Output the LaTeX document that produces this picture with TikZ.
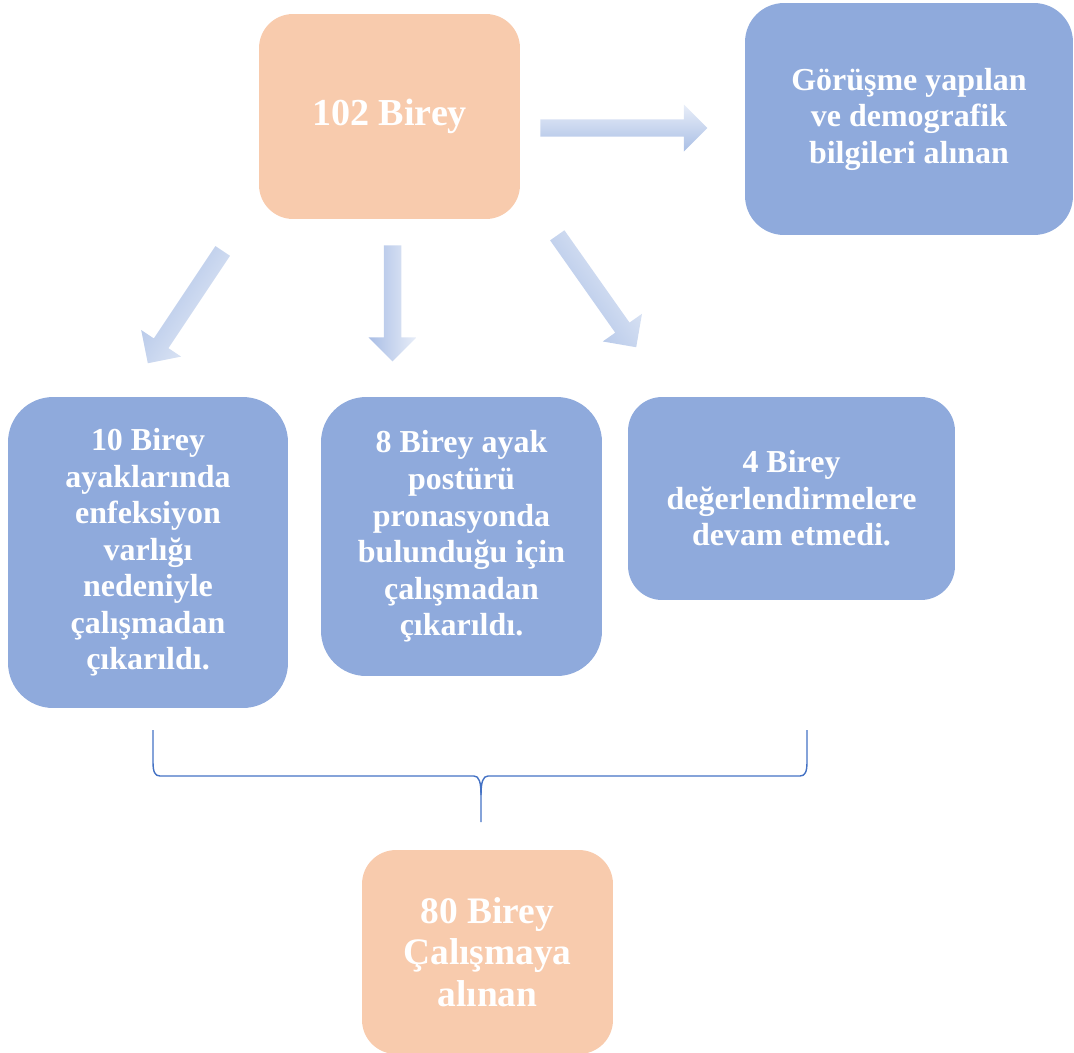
\documentclass[tikz,border=0pt]{standalone}
\usepackage{fontspec}
\setmainfont{Liberation Serif}
\usetikzlibrary{shapes.arrows}

\definecolor{boxblue}{HTML}{8FAADC}
\definecolor{boxpeach}{HTML}{F8CBAD}
\definecolor{bracecol}{HTML}{4472C4}
\definecolor{arrowlight}{HTML}{E8EEF8}
\definecolor{arrowdark}{HTML}{A9BEE5}

\tikzset{
  bluebox/.style={fill=boxblue, draw=none, text=white, align=center, inner sep=0pt,
    font=\bfseries\fontsize{18.2}{20.8}\selectfont},
  peachbox/.style={fill=boxpeach, draw=none, text=white, align=center, inner sep=0pt},
  blockarrow/.style={single arrow, draw=none, inner xsep=0pt, inner ysep=0.125cm,
    minimum width=0.96cm, single arrow head extend=0.23cm,
    top color=arrowlight, bottom color=arrowdark, shading angle=#1,
    midway, sloped, allow upside down}
}

\begin{document}
\begin{tikzpicture}[x=0.02cm, y=-0.02cm]
        \clip (0,0) rectangle (1074,1052);

        % Top row
        \node[peachbox, minimum width=5.22cm, minimum height=4.10cm, rounded corners=0.68cm,
          font=\bfseries\fontsize{21.7}{25}\selectfont] (all) at (389.5,116.5) {102 Birey};
        \node[bluebox, minimum width=6.56cm, minimum height=4.64cm, rounded corners=0.78cm]
          (interview) at (909,119) {Görüşme yapılan\\ve demografik\\bilgileri alınan};

        % Excluded groups
        \node[bluebox, minimum width=5.6cm, minimum height=6.22cm, rounded corners=0.9cm]
          (infection) at (148,552.5) {10 Birey\\ayaklarında\\enfeksiyon\\varlığı\\nedeniyle\\çalışmadan\\çıkarıldı.};
        \node[bluebox, minimum width=5.62cm, minimum height=5.58cm, rounded corners=0.9cm]
          (pronation) at (461.5,536.5) {8 Birey ayak\\postürü\\pronasyonda\\bulunduğu için\\çalışmadan\\çıkarıldı.};
        \node[bluebox, minimum width=6.54cm, minimum height=4.06cm, rounded corners=0.68cm]
          (dropout) at (791.5,498.5) {4 Birey\\değerlendirmelere\\devam etmedi.};

        % Final sample
        \node[peachbox, minimum width=5.02cm, minimum height=4.08cm, rounded corners=0.68cm,
          font=\bfseries\fontsize{21.3}{23.8}\selectfont] (final) at (487.5,952) {80 Birey\\Çalışmaya\\alınan};

        % Block arrows
        \coordinate (rtail) at (536,128);
        \coordinate (rtip) at (703,128);
        \coordinate (mtail) at (392.5,241);
        \coordinate (mtip) at (392.5,357);
        \coordinate (ltail) at (225.2,247.2);
        \coordinate (ltip) at (150.2,359.7);
        \coordinate (dtail) at (554.7,231.7);
        \coordinate (dtip) at (633.7,343.7);
        \path (rtail) -- (rtip) node[blockarrow=0, minimum height=3.34cm, minimum width=0.94cm] (arrowright) {};
        \path (mtail) -- (mtip) node[blockarrow=-90, minimum height=2.32cm] (arrowdown) {};
        \path (ltail) -- (ltip) node[blockarrow=236.3, minimum height=2.70cm] (arrowleft) {};
        \path (dtail) -- (dtip) node[blockarrow=-54.8, minimum height=2.74cm] (arrowdiag) {};

        % Brace joining the three groups
        \coordinate (braceleft) at (153,730);
        \coordinate (braceright) at (807,730);
        \coordinate (bracetip) at (481,822);
        \draw[bracecol, line width=0.8pt] (braceleft) -- (153,762)
          .. controls (153,772) and (155,776) .. (160,776) -- (474,776)
          .. controls (479,776) and (481,782) .. (481,795) -- (bracetip);
        \draw[bracecol, line width=0.8pt] (braceright) -- (807,762)
          .. controls (807,772) and (805,776) .. (800,776) -- (488,776)
          .. controls (483,776) and (481,782) .. (481,795);
\end{tikzpicture}
\end{document}
